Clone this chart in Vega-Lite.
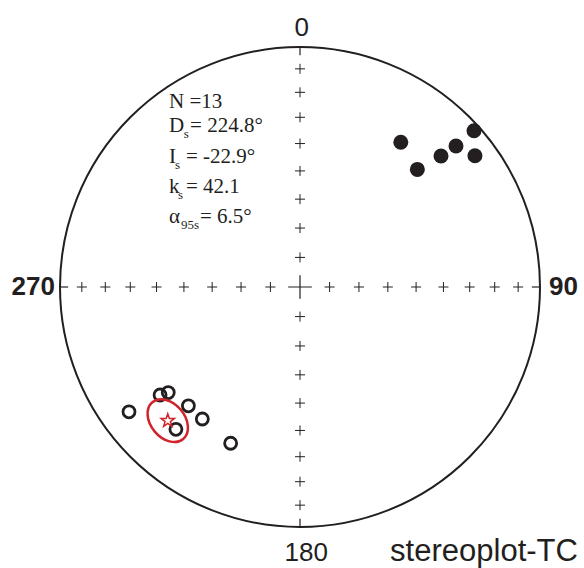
{
  "$schema": "https://vega.github.io/schema/vega-lite/v6.json",
  "width": 480,
  "height": 480,
  "autosize": {"type": "none"},
  "padding": {"left": 60, "top": 47, "right": 44, "bottom": 41},
  "background": "white",
  "config": {"view": {"stroke": null}},
  "datasets": {
    "origin": [{"x": 0, "y": 0}],
    "ticks": [
      {"x": -1, "y": 0, "x2": -0.966, "y2": 0},
      {"x": 1, "y": 0, "x2": 0.966, "y2": 0},
      {"x": 0, "y": 1, "x2": 0, "y2": 0.966},
      {"x": 0, "y": -1, "x2": 0, "y2": -0.966}
    ],
    "grid": [
      {"x": 0.1233, "y": 0}, {"x": 0.2456, "y": 0}, {"x": 0.366, "y": 0}, {"x": 0.4837, "y": 0},
      {"x": 0.5977, "y": 0}, {"x": 0.7071, "y": 0}, {"x": 0.8112, "y": 0}, {"x": 0.909, "y": 0},
      {"x": -0.1233, "y": 0}, {"x": -0.2456, "y": 0}, {"x": -0.366, "y": 0}, {"x": -0.4837, "y": 0},
      {"x": -0.5977, "y": 0}, {"x": -0.7071, "y": 0}, {"x": -0.8112, "y": 0}, {"x": -0.909, "y": 0},
      {"x": 0, "y": 0.1233}, {"x": 0, "y": 0.2456}, {"x": 0, "y": 0.366}, {"x": 0, "y": 0.4837},
      {"x": 0, "y": 0.5977}, {"x": 0, "y": 0.7071}, {"x": 0, "y": 0.8112}, {"x": 0, "y": 0.909},
      {"x": 0, "y": -0.1233}, {"x": 0, "y": -0.2456}, {"x": 0, "y": -0.366}, {"x": 0, "y": -0.4837},
      {"x": 0, "y": -0.5977}, {"x": 0, "y": -0.7071}, {"x": 0, "y": -0.8112}, {"x": 0, "y": -0.909}
    ],
    "filled": [
      {"x": 0.42, "y": 0.603},
      {"x": 0.489, "y": 0.49},
      {"x": 0.5875, "y": 0.546},
      {"x": 0.65, "y": 0.5875},
      {"x": 0.725, "y": 0.651},
      {"x": 0.729, "y": 0.547}
    ],
    "open": [
      {"x": -0.7125, "y": -0.52},
      {"x": -0.583, "y": -0.45},
      {"x": -0.549, "y": -0.44},
      {"x": -0.465, "y": -0.495},
      {"x": -0.407, "y": -0.55},
      {"x": -0.517, "y": -0.593},
      {"x": -0.289, "y": -0.651}
    ],
    "mean": [{"x": -0.551, "y": -0.557}],
    "dirlabels": [
      {"x": 0.007, "y": 1.046, "label": "0"},
      {"x": 0.026, "y": -1.142, "label": "180"}
    ],
    "leftlabel": [{"x": -1.021, "y": -0.033, "label": "270"}],
    "rightlabel": [{"x": 1.0375, "y": -0.033, "label": "90"}],
    "stats": [
      {"x": -0.5458, "y": 0.746, "label": "N =13"},
      {"x": -0.5458, "y": 0.646, "label": "D"},
      {"x": -0.458, "y": 0.646, "label": "= 224.8°"},
      {"x": -0.5458, "y": 0.517, "label": "I"},
      {"x": -0.475, "y": 0.517, "label": "= -22.9°"},
      {"x": -0.5458, "y": 0.392, "label": "k"},
      {"x": -0.475, "y": 0.392, "label": "= 42.1"},
      {"x": -0.5458, "y": 0.267, "label": "α"},
      {"x": -0.417, "y": 0.267, "label": "= 6.5°"}
    ],
    "subs": [
      {"x": -0.484, "y": 0.621, "label": "s"},
      {"x": -0.521, "y": 0.492, "label": "s"},
      {"x": -0.508, "y": 0.367, "label": "s"},
      {"x": -0.496, "y": 0.242, "label": "95s"}
    ],
    "title": [{"x": 1.158, "y": -1.14, "label": "stereoplot-TC"}]
  },
  "encoding": {
    "x": {"field": "x", "type": "quantitative", "scale": {"domain": [-1, 1], "nice": false, "zero": false}, "axis": null},
    "y": {"field": "y", "type": "quantitative", "scale": {"domain": [-1, 1], "nice": false, "zero": false}, "axis": null}
  },
  "layer": [
    {
      "data": {"name": "origin"},
      "mark": {"type": "point", "shape": "circle", "size": 230400, "filled": false, "stroke": "#231f20", "strokeWidth": 2, "opacity": 1, "clip": false}
    },
    {
      "data": {"name": "ticks"},
      "mark": {"type": "rule", "stroke": "#231f20", "strokeWidth": 1.2},
      "encoding": {"x2": {"field": "x2"}, "y2": {"field": "y2"}}
    },
    {
      "data": {"name": "grid"},
      "mark": {"type": "point", "shape": "M-1,0L1,0M0,-1L0,1", "size": 100, "filled": false, "stroke": "#231f20", "strokeWidth": 1, "opacity": 1}
    },
    {
      "data": {"name": "origin"},
      "mark": {"type": "point", "shape": "M-1,0L1,0M0,-1L0,1", "size": 560, "filled": false, "stroke": "#231f20", "strokeWidth": 1.2, "opacity": 1}
    },
    {
      "data": {"name": "filled"},
      "mark": {"type": "point", "shape": "circle", "size": 225, "filled": true, "fill": "#231f20", "opacity": 1}
    },
    {
      "data": {"name": "open"},
      "mark": {"type": "point", "shape": "circle", "size": 144, "filled": false, "stroke": "#231f20", "strokeWidth": 2.8, "opacity": 1}
    },
    {
      "data": {"name": "mean"},
      "mark": {"type": "point", "shape": "M-1,0A1,0.708 0 1,0 1,0A1,0.708 0 1,0 -1,0Z", "size": 2304, "angle": 50, "filled": false, "stroke": "#d0232b", "strokeWidth": 2.5, "opacity": 1}
    },
    {
      "data": {"name": "mean"},
      "mark": {"type": "point", "shape": "M0,-1L0.235,-0.324L0.951,-0.309L0.38,0.124L0.588,0.809L0,0.4L-0.588,0.809L-0.38,0.124L-0.951,-0.309L-0.235,-0.324Z", "size": 196, "filled": false, "stroke": "#d0232b", "strokeWidth": 1.5, "opacity": 1}
    },
    {
      "data": {"name": "dirlabels"},
      "mark": {"type": "text", "font": "Liberation Sans", "fontSize": 26, "align": "center", "baseline": "alphabetic", "color": "#231f20"},
      "encoding": {"text": {"field": "label"}}
    },
    {
      "data": {"name": "leftlabel"},
      "mark": {"type": "text", "font": "Liberation Sans", "fontSize": 26, "fontWeight": "bold", "align": "right", "baseline": "alphabetic", "color": "#231f20"},
      "encoding": {"text": {"field": "label"}}
    },
    {
      "data": {"name": "rightlabel"},
      "mark": {"type": "text", "font": "Liberation Sans", "fontSize": 26, "fontWeight": "bold", "align": "left", "baseline": "alphabetic", "color": "#231f20"},
      "encoding": {"text": {"field": "label"}}
    },
    {
      "data": {"name": "stats"},
      "mark": {"type": "text", "font": "Liberation Serif", "fontSize": 21, "align": "left", "baseline": "alphabetic", "color": "#231f20"},
      "encoding": {"text": {"field": "label"}}
    },
    {
      "data": {"name": "subs"},
      "mark": {"type": "text", "font": "Liberation Serif", "fontSize": 13, "align": "left", "baseline": "alphabetic", "color": "#231f20"},
      "encoding": {"text": {"field": "label"}}
    },
    {
      "data": {"name": "title"},
      "mark": {"type": "text", "font": "Liberation Sans", "fontSize": 31, "align": "right", "baseline": "alphabetic", "color": "#231f20"},
      "encoding": {"text": {"field": "label"}}
    }
  ]
}
